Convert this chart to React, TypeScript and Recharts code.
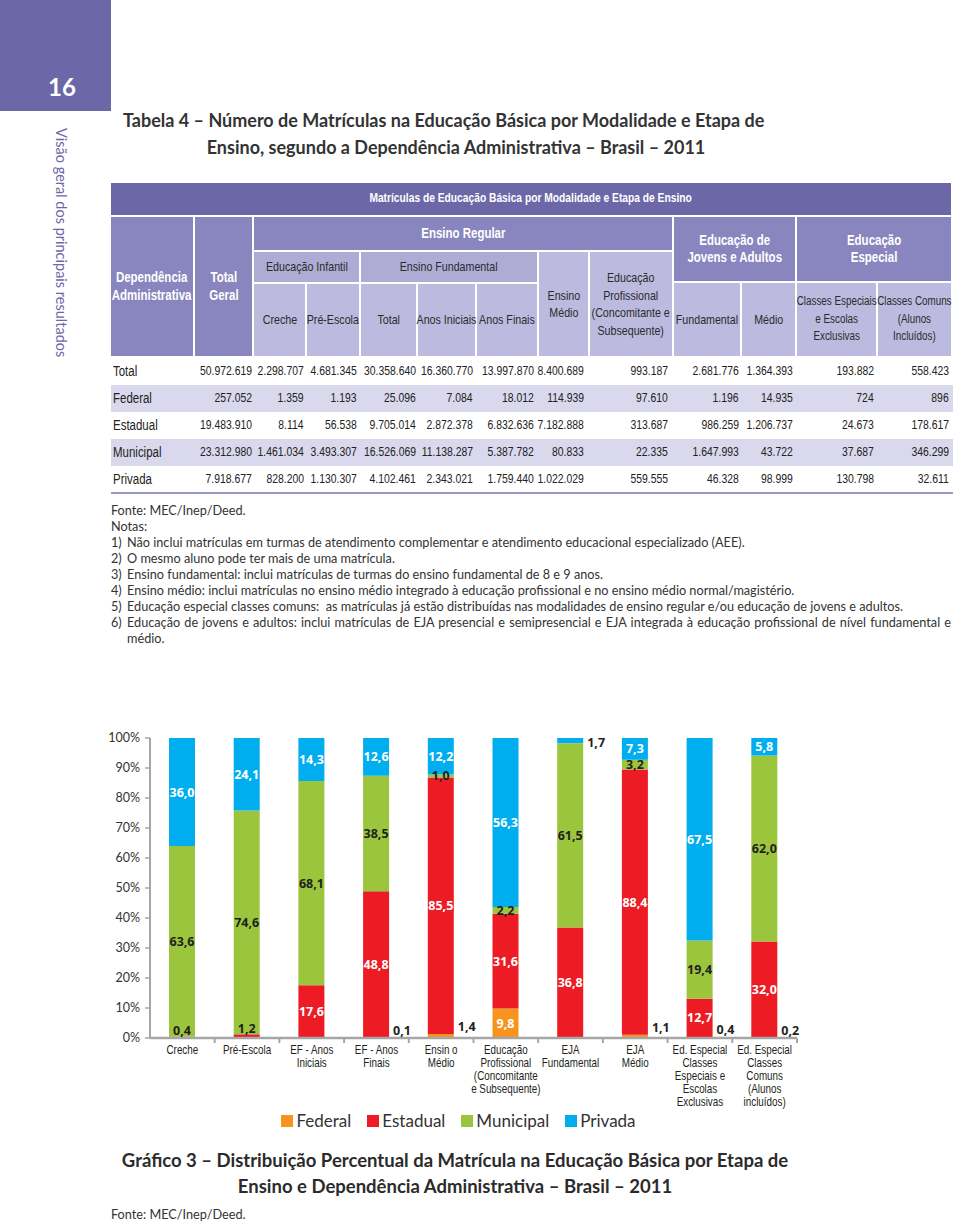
import React from "react";
import { BarChart, Bar, XAxis, YAxis, Legend, LabelList } from "recharts";

// ---------- dados da tabela ----------
const rowLabels = ["Total", "Federal", "Estadual", "Municipal", "Privada"];
const rowTotal = ["50.972.619", "2.298.707", "4.681.345", "30.358.640", "16.360.770", "13.997.870", "8.400.689", "993.187", "2.681.776", "1.364.393", "193.882", "558.423"];
const rowFederal = ["257.052", "1.359", "1.193", "25.096", "7.084", "18.012", "114.939", "97.610", "1.196", "14.935", "724", "896"];
const rowEstadual = ["19.483.910", "8.114", "56.538", "9.705.014", "2.872.378", "6.832.636", "7.182.888", "313.687", "986.259", "1.206.737", "24.673", "178.617"];
const rowMunicipal = ["23.312.980", "1.461.034", "3.493.307", "16.526.069", "11.138.287", "5.387.782", "80.833", "22.335", "1.647.993", "43.722", "37.687", "346.299"];
const rowPrivada = ["7.918.677", "828.200", "1.130.307", "4.102.461", "2.343.021", "1.759.440", "1.022.029", "559.555", "46.328", "98.999", "130.798", "32.611"];

// ---------- dados do gráfico (%) ----------
const categories = [
  "Creche",
  "Pré-Escola",
  "EF - Anos\nIniciais",
  "EF - Anos\nFinais",
  "Ensin o\nMédio",
  "Educação\nProfissional\n(Concomitante\ne Subsequente)",
  "EJA\nFundamental",
  "EJA\nMédio",
  "Ed. Especial\nClasses\nEspeciais e\nEscolas\nExclusivas",
  "Ed. Especial\nClasses\nComuns\n(Alunos\nincluídos)",
];
const federal = [0.059, 0.025, 0.043, 0.129, 1.368, 9.828, 0.045, 1.095, 0.373, 0.16];
const estadual = [0.353, 1.208, 17.557, 48.812, 85.503, 31.584, 36.777, 88.446, 12.726, 31.986];
const municipal = [63.558, 74.622, 68.08, 38.49, 0.962, 2.249, 61.452, 3.204, 19.438, 62.014];
const privada = [36.029, 24.145, 14.321, 12.569, 12.166, 56.339, 1.727, 7.256, 67.463, 5.84];
const yTicks = [0, 10, 20, 30, 40, 50, 60, 70, 80, 90, 100];

const chartData = categories.map((name, i) => ({
  name,
  federal: federal[i],
  estadual: estadual[i],
  municipal: municipal[i],
  privada: privada[i],
}));

const series = [
  { key: "federal", name: "Federal", color: "#F7941D" },
  { key: "estadual", name: "Estadual", color: "#ED1C24" },
  { key: "municipal", name: "Municipal", color: "#9BC53D" },
  { key: "privada", name: "Privada", color: "#00AEEF" },
];

const PURPLE = "#6C68A8";
const NARROW = '"Liberation Sans", Arial, sans-serif';
const SQUEEZE = 0.82; // imita a fonte condensada do original
const HUMAN = 'Lato, "Open Sans", sans-serif';
const DARK = "#231F20";

const CHART_W = 720;
const CHART_MARGIN = { top: 10, right: 23, left: 0, bottom: 0 };
const YAXIS_W = 50;
const BAND = (CHART_W - CHART_MARGIN.left - CHART_MARGIN.right - YAXIS_W) / categories.length;

const fmt = (v: number) => v.toFixed(1).replace(".", ",");

const labelFont = { fontFamily: '"Open Sans", sans-serif', fontWeight: 700, fontSize: 12.5 };

const makeLabel = (key: string) => (props: any) => {
  const { x, y, width, height, value } = props;
  const v = Number(value);
  if (!(v >= 0.1)) return null;
  const cx = x + width / 2;
  const text = fmt(v);
  if (key === "federal" && v < 2) {
    return (
      <text x={x + width + 4} y={y - 7} dominantBaseline="central" fill={DARK} {...labelFont}>
        {text}
      </text>
    );
  }
  if (key === "privada" && v < 2) {
    return (
      <text x={x + width + 4} y={y + height / 2 + 2} dominantBaseline="central" fill={DARK} {...labelFont}>
        {text}
      </text>
    );
  }
  if (key === "estadual" && v < 2) {
    return (
      <text x={cx} y={y - 6} textAnchor="middle" dominantBaseline="central" fill={DARK} {...labelFont}>
        {text}
      </text>
    );
  }
  const fill = key === "municipal" ? DARK : "#ffffff";
  return (
    <text x={cx} y={y + height / 2} textAnchor="middle" dominantBaseline="central" fill={fill} {...labelFont}>
      {text}
    </text>
  );
};

const CategoryTick = (props: any) => {
  const { x, y, payload } = props;
  const lines = String(payload.value).split("\n");
  return (
    <g>
      <line x1={x + BAND / 2} x2={x + BAND / 2} y1={y} y2={y + 5} stroke="#A6A6A6" strokeWidth={2} />
      <text transform={`translate(${x},${y + 16}) scale(${SQUEEZE},1)`} textAnchor="middle" fill={DARK} fontFamily={NARROW} fontSize={12}>
        {lines.map((l, i) => (
          <tspan key={i} x={0} dy={i === 0 ? 0 : 13}>
            {l}
          </tspan>
        ))}
      </text>
    </g>
  );
};

const LegendContent = () => (
  <div style={{ display: "flex", justifyContent: "center", gap: 16, fontFamily: HUMAN, fontSize: 17, color: "#333", paddingLeft: 20 }}>
    {series.map((s) => (
      <span key={s.key} style={{ display: "flex", alignItems: "center" }}>
        <span style={{ display: "inline-block", width: 12, height: 12, background: s.color, marginRight: 3 }} />
        {s.name}
      </span>
    ))}
  </div>
);

// ---------- tabela ----------
const Squeezed: React.FC<{ origin?: string; k?: number; children?: React.ReactNode }> = ({ origin = "center", k = SQUEEZE, children }) => (
  <span style={{ display: "inline-block", transform: `scaleX(${k})`, transformOrigin: origin, whiteSpace: "pre" }}>{children}</span>
);

type CellProps = {
  x: number; y: number; w: number; h: number; bg: string;
  light?: boolean; bold?: boolean; children?: React.ReactNode; size?: number;
};

const Cell: React.FC<CellProps> = ({ x, y, w, h, bg, light, bold, children, size = 12.5 }) => (
  <div
    style={{
      position: "absolute", left: x, top: y, width: w, height: h, background: bg,
      color: light ? "#fff" : "#2b2b2b", fontWeight: bold ? 700 : 400, fontSize: size,
      fontFamily: NARROW, lineHeight: "17.5px", display: "flex", alignItems: "center",
      justifyContent: "center", textAlign: "center",
      boxSizing: "border-box", borderRight: "2px solid #fff", borderBottom: "2px solid #fff",
    }}
  >
    <Squeezed>{children}</Squeezed>
  </div>
);

const valueRight = [252, 304, 357, 416, 473, 534, 584, 668, 739, 793, 874, 949];
const tableRows = [rowTotal, rowFederal, rowEstadual, rowMunicipal, rowPrivada];

const notes = [
  "Não inclui matrículas em turmas de atendimento complementar e atendimento educacional especializado (AEE).",
  "O mesmo aluno pode ter mais de uma matrícula.",
  "Ensino fundamental: inclui matrículas de turmas do ensino fundamental de 8 e 9 anos.",
  "Ensino médio: inclui matrículas no ensino médio integrado à educação profissional e no ensino médio normal/magistério.",
  "Educação especial classes comuns:  as matrículas já estão distribuídas nas modalidades de ensino regular e/ou educação de jovens e adultos.",
];

const C1 = "#8985BE";
const C2 = "#AEABD5";
const C3 = "#BCBADF";

const App: React.FC = () => {
  return (
    <div style={{ position: "absolute", left: 0, top: 0, width: 960, height: 1223, background: "#fff", overflow: "hidden", color: "#2b2b2b" }}>
      {/* faixa lateral */}
      <div style={{ position: "absolute", left: 0, top: 0, width: 111, height: 111, background: PURPLE }} />
      <div style={{ position: "absolute", left: 0, top: 72, width: 124, textAlign: "center", color: "#fff", fontFamily: HUMAN, fontWeight: 700, fontSize: 24 }}>
        16
      </div>
      <div style={{ position: "absolute", left: 53, top: 128, writingMode: "vertical-rl", color: PURPLE, fontFamily: HUMAN, fontSize: 14.5 }}>
        Visão geral dos principais resultados
      </div>

      {/* título da tabela */}
      <div style={{ position: "absolute", left: 123, top: 109, fontFamily: HUMAN, fontWeight: 700, fontSize: 18, whiteSpace: "nowrap", color: "#333" }}>
        Tabela 4 – Número de Matrículas na Educação Básica por Modalidade e Etapa de
      </div>
      <div style={{ position: "absolute", left: 156, width: 600, top: 136, textAlign: "center", fontFamily: HUMAN, fontWeight: 700, fontSize: 18, whiteSpace: "nowrap", color: "#333" }}>
        Ensino, segundo a Dependência Administrativa – Brasil – 2011
      </div>

      {/* cabeçalho */}
      <Cell x={111} y={183} w={842} h={34} bg={PURPLE} light bold size={12.5}>
        Matrículas de Educação Básica por Modalidade e Etapa de Ensino
      </Cell>
      <Cell x={111} y={217} w={84} h={141} bg={C1} light bold size={14}>{"Dependência\nAdministrativa"}</Cell>
      <Cell x={195} y={217} w={59} h={141} bg={C1} light bold size={14}>{"Total\nGeral"}</Cell>
      <Cell x={254} y={217} w={420} h={35} bg={C1} light bold size={14}>Ensino Regular</Cell>
      <Cell x={254} y={252} w={107} h={32} bg={C2} size={13}>Educação Infantil</Cell>
      <Cell x={361} y={252} w={178} h={32} bg={C2} size={13}>Ensino Fundamental</Cell>
      <Cell x={254} y={284} w={53} h={74} bg={C3} size={13}>Creche</Cell>
      <Cell x={307} y={284} w={54} h={74} bg={C3} size={13}>Pré-Escola</Cell>
      <Cell x={361} y={284} w={57} h={74} bg={C3} size={13}>Total</Cell>
      <Cell x={418} y={284} w={59} h={74} bg={C3} size={13}>Anos Iniciais</Cell>
      <Cell x={477} y={284} w={62} h={74} bg={C3} size={13}>Anos Finais</Cell>
      <Cell x={539} y={252} w={51} h={106} bg={C3} size={13}>{"Ensino\nMédio"}</Cell>
      <Cell x={590} y={252} w={84} h={106} bg={C3} size={13}>{"Educação\nProfissional\n(Concomitante e\nSubsequente)"}</Cell>
      <Cell x={674} y={217} w={123} h={66} bg={C1} light bold size={14}>{"Educação de\nJovens e Adultos"}</Cell>
      <Cell x={674} y={283} w={68} h={75} bg={C3} size={13}>Fundamental</Cell>
      <Cell x={742} y={283} w={55} h={75} bg={C3} size={13}>Médio</Cell>
      <Cell x={797} y={217} w={156} h={66} bg={C1} light bold size={14}>{"Educação\nEspecial"}</Cell>
      <Cell x={797} y={283} w={81} h={75} bg={C3} size={12}>{"Classes Especiais\ne Escolas\nExclusivas"}</Cell>
      <Cell x={878} y={283} w={75} h={75} bg={C3} size={12}>{"Classes Comuns\n(Alunos\nIncluídos)"}</Cell>

      {/* linhas de dados */}
      {tableRows.map((vals, r) => (
        <div key={r} style={{ position: "absolute", left: 111, top: 358 + r * 27, width: 842, height: 27, background: r % 2 === 1 ? "#D9D8EC" : "#fff", fontFamily: NARROW, fontSize: 13, color: "#222" }}>
          <span style={{ position: "absolute", left: 2, top: 5, fontSize: 14 }}>
            <Squeezed origin="left">{rowLabels[r]}</Squeezed>
          </span>
          {vals.map((v, c) => (
            <span key={c} style={{ position: "absolute", right: 953 - valueRight[c], top: 5 }}>
              <Squeezed origin="right" k={0.8}>{v}</Squeezed>
            </span>
          ))}
        </div>
      ))}
      <div style={{ position: "absolute", left: 111, top: 492, width: 842, height: 2, background: "#9A97C8" }} />

      {/* notas */}
      <div style={{ position: "absolute", left: 111, top: 502, width: 842, fontFamily: HUMAN, fontSize: 12.7, lineHeight: "16px", color: "#333" }}>
        <div>Fonte: MEC/Inep/Deed.</div>
        <div>Notas:</div>
        {notes.map((n, i) => (
          <div key={i} style={{ display: "flex" }}>
            <span style={{ width: 16 }}>{i + 1})</span>
            <span style={{ whiteSpace: "pre" }}>{n}</span>
          </div>
        ))}
        <div style={{ display: "flex" }}>
          <span style={{ width: 16 }}>6)</span>
          <div style={{ width: 824 }}>
            <div style={{ textAlign: "justify", textAlignLast: "justify" }}>
              Educação de jovens e adultos: inclui matrículas de EJA presencial e semipresencial e EJA integrada à educação profissional de nível fundamental e
            </div>
            <div>médio.</div>
          </div>
        </div>
      </div>

      {/* gráfico */}
      <div style={{ position: "absolute", left: 100, top: 728 }}>
        <BarChart width={CHART_W} height={406} data={chartData} margin={CHART_MARGIN}>
          <YAxis
            type="number"
            domain={[0, 100]}
            ticks={yTicks}
            allowDataOverflow
            width={YAXIS_W}
            tickFormatter={(v) => `${v}%`}
            axisLine={{ stroke: "#A6A6A6", strokeWidth: 2 }}
            tickLine={{ stroke: "#A6A6A6", strokeWidth: 1.5 }}
            tickSize={5}
            tickMargin={5}
            tick={{ fill: "#333", fontSize: 12.5, fontFamily: HUMAN }}
          />
          <XAxis
            dataKey="name"
            interval={0}
            height={72}
            tickSize={0}
            tickMargin={0}
            tickLine={false}
            axisLine={{ stroke: "#A6A6A6", strokeWidth: 2.5 }}
            tick={<CategoryTick />}
          />
          <Legend verticalAlign="bottom" height={24} content={<LegendContent />} />
          {series.map((s) => (
            <Bar key={s.key} dataKey={s.key} name={s.name} stackId="a" fill={s.color} barSize={26} isAnimationActive={false}>
              <LabelList dataKey={s.key} content={makeLabel(s.key)} />
            </Bar>
          ))}
        </BarChart>
      </div>

      {/* legenda do gráfico */}
      <div style={{ position: "absolute", left: 55, width: 800, top: 1147, textAlign: "center", fontFamily: HUMAN, fontWeight: 700, fontSize: 18.5, lineHeight: "26px", color: "#2b2b2b" }}>
        <div style={{ whiteSpace: "nowrap" }}>Gráfico 3 – Distribuição Percentual da Matrícula na Educação Básica por Etapa de</div>
        <div style={{ whiteSpace: "nowrap" }}>Ensino e Dependência Administrativa – Brasil – 2011</div>
      </div>
      <div style={{ position: "absolute", left: 111, top: 1206, fontFamily: HUMAN, fontSize: 12.7, color: "#333" }}>
        Fonte: MEC/Inep/Deed.
      </div>
    </div>
  );
};

export default App;
